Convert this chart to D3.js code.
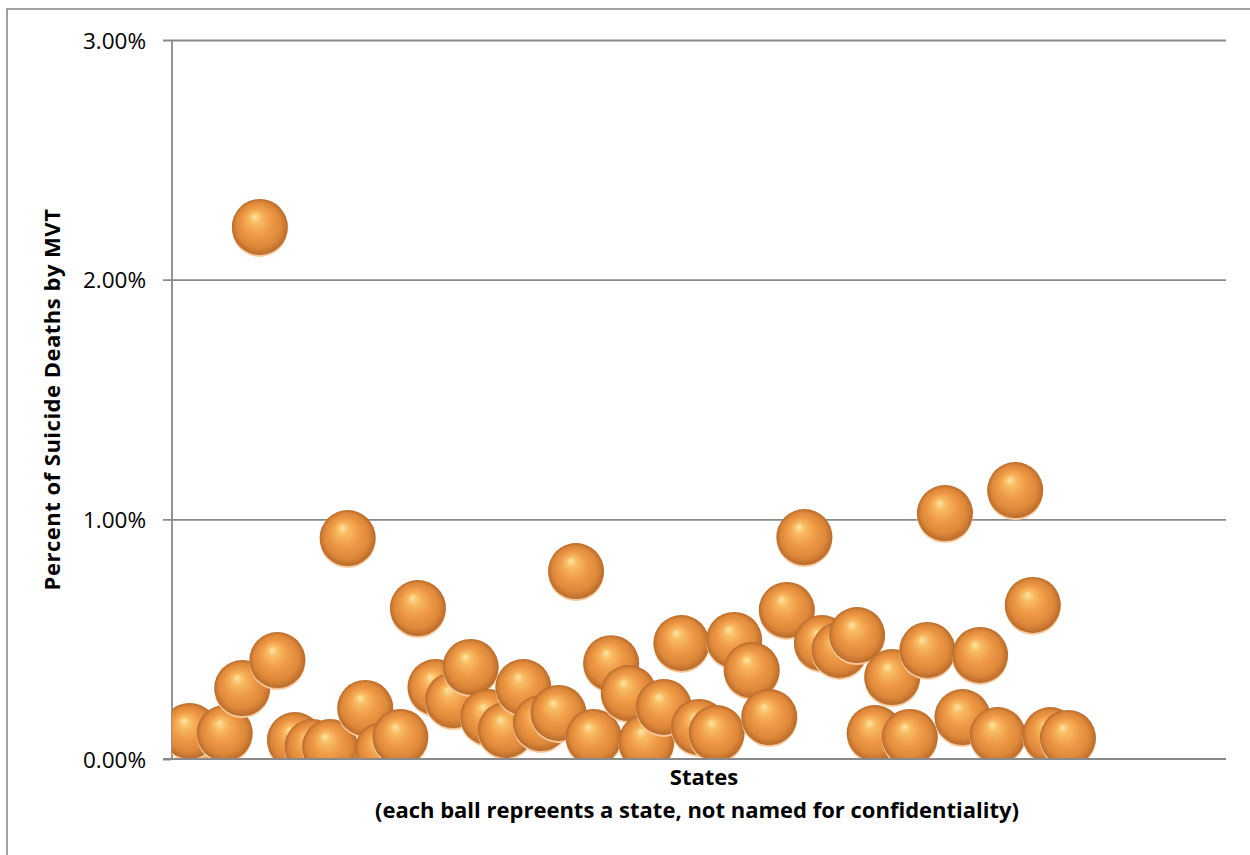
<!DOCTYPE html>
<html>
<head>
<meta charset="utf-8">
<script src="https://cdn.jsdelivr.net/npm/d3@7"></script>
<style>
  html, body { margin: 0; padding: 0; background: #fff; }
  svg { display: block; }
</style>
</head>
<body>
<svg id="chart" width="1250" height="855"></svg>
<script>
// Each state is shown as one ball; states are anonymised and only indexed.
const stateIndex = [2, 1, 3, 4, 5, 6, 7, 8, 9, 10, 11, 12, 13, 14, 15, 16, 17, 18, 19, 20,
  21, 22, 23, 24, 25, 26, 27, 28, 29, 30, 31, 32, 33, 34, 35, 36, 37, 38, 39, 40,
  41, 42, 43, 44, 45, 46, 47, 48, 49, 50, 51];
// Percent of suicide deaths by motor vehicle trauma, per state (same order as stateIndex)
const pctMVT = [0.017, 0.117, 0.108, 0.296, 2.22, 0.413, 0.079, 0.050, 0.050, 0.922,
  0.213, 0.038, 0.092, 0.630, 0.300, 0.246, 0.384, 0.175, 0.121, 0.300,
  0.150, 0.192, 0.784, 0.092, 0.400, 0.275, 0.071, 0.217, 0.484, 0.134,
  0.108, 0.497, 0.371, 0.175, 0.622, 0.926, 0.484, 0.455, 0.517, 0.108,
  0.342, 0.092, 0.455, 1.026, 0.175, 0.434, 0.100, 1.122, 0.643, 0.100, 0.088];
const yTicks = [0, 1, 2, 3];

const svg = d3.select("#chart");
const W = 1250, H = 855;
const plot = { left: 172, right: 1226, top: 40, bottom: 759 };
const ballR = 28;
const gridColor = "#8a8a8a";
const font = "'Open Sans', 'Noto Sans', sans-serif";

const x = d3.scaleLinear().domain([0, 60]).range([plot.left, plot.right]);
const y = d3.scaleLinear().domain([0, 3]).range([plot.bottom, plot.top]);

// outer chart frame
svg.append("rect")
  .attr("x", 7).attr("y", 9)
  .attr("width", W + 20).attr("height", H + 20)
  .attr("fill", "#fff").attr("stroke", gridColor).attr("stroke-width", 1.6);

const defs = svg.append("defs");
const grad = defs.append("radialGradient")
  .attr("id", "ball").attr("cx", "50%").attr("cy", "50%").attr("r", "50%")
  .attr("fx", "40%").attr("fy", "31%");
[[0, "#fde6a2"], [0.2, "#f8bb62"], [0.5, "#ef9a46"], [0.8, "#de883a"], [0.94, "#c5742f"], [1, "#b56a2c"]]
  .forEach(([o, c]) => grad.append("stop").attr("offset", o).attr("stop-color", c));
const rim = defs.append("radialGradient")
  .attr("id", "rim").attr("cx", "50%").attr("cy", "50%").attr("r", "50%");
[[0, "#f6b170"], [0.85, "#f4b076"], [1, "#f8cfa6"]]
  .forEach(([o, c]) => rim.append("stop").attr("offset", o).attr("stop-color", c));

defs.append("clipPath").attr("id", "plotClip")
  .append("rect")
  .attr("x", plot.left).attr("y", plot.top - 40)
  .attr("width", plot.right - plot.left).attr("height", plot.bottom - plot.top + 40);

// y axis with gridlines
const yAxis = d3.axisLeft(y)
  .tickValues(yTicks)
  .tickSize(-(plot.right - plot.left))
  .tickPadding(26)
  .tickFormat(d => d3.format(".2f")(d) + "%");
const gy = svg.append("g")
  .attr("transform", `translate(${plot.left},0)`)
  .call(yAxis);
gy.select(".domain").remove();
gy.selectAll(".tick line")
  .attr("x1", -9)
  .attr("stroke", gridColor).attr("stroke-width", 1.8);
gy.selectAll(".tick text")
  .attr("font-family", font).attr("font-size", 22.5).attr("fill", "#000")
  .attr("dy", "0.36em");

svg.append("line")
  .attr("x1", plot.left).attr("x2", plot.left)
  .attr("y1", plot.top).attr("y2", plot.bottom)
  .attr("stroke", gridColor).attr("stroke-width", 1.8);

// balls
const data = stateIndex.map((s, i) => ({ s, v: pctMVT[i] }));
const balls = svg.append("g").attr("clip-path", "url(#plotClip)")
  .selectAll("g").data(data).join("g")
  .attr("transform", d => `translate(${x(d.s)},${y(d.v)})`);
balls.append("circle").attr("cy", 2).attr("r", ballR).attr("fill", "url(#rim)");
balls.append("circle").attr("r", ballR).attr("fill", "url(#ball)");

// clip the balls at the x axis
svg.append("rect")
  .attr("x", plot.left - 1).attr("y", plot.bottom + 1)
  .attr("width", plot.right - plot.left + 2).attr("height", 90)
  .attr("fill", "#fff");
svg.append("line")
  .attr("x1", plot.left - 9).attr("x2", plot.right)
  .attr("y1", plot.bottom).attr("y2", plot.bottom)
  .attr("stroke", gridColor).attr("stroke-width", 1.8);

// axis titles
svg.append("text")
  .attr("x", 704).attr("y", 785)
  .attr("text-anchor", "middle")
  .attr("font-family", font).attr("font-weight", "bold").attr("font-size", 22)
  .text("States");
svg.append("text")
  .attr("x", 697).attr("y", 818)
  .attr("text-anchor", "middle")
  .attr("font-family", font).attr("font-weight", "bold").attr("font-size", 22)
  .text("(each ball repreents a state, not named for confidentiality)");
svg.append("text")
  .attr("transform", `translate(60,${(plot.top + plot.bottom) / 2}) rotate(-90)`)
  .attr("text-anchor", "middle")
  .attr("font-family", font).attr("font-weight", "bold").attr("font-size", 22)
  .attr("letter-spacing", 0.5)
  .text("Percent of Suicide Deaths by MVT");
</script>
</body>
</html>
